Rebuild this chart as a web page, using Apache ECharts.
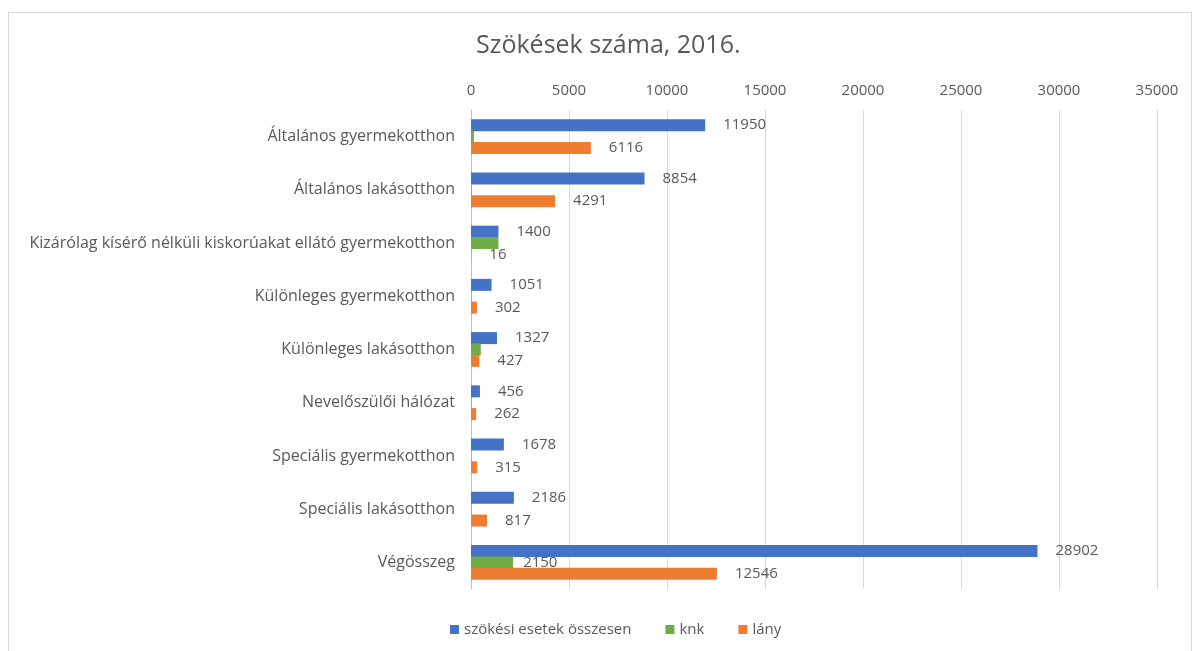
<!DOCTYPE html>
<html>
<head>
<meta charset="utf-8">
<script src="https://cdn.jsdelivr.net/npm/echarts@6/dist/echarts.min.js"></script>
<style>
  html, body { margin: 0; padding: 0; background: #fff; }
  #frame { position: absolute; left: 8px; top: 12px; width: 1184px; height: 640px; border: 1px solid #d9d9d9; box-sizing: border-box; }
  #chart { position: absolute; left: 0; top: 0; width: 1192px; height: 651px; }
</style>
</head>
<body>
<div id="frame"></div>
<div id="chart"></div>
<script>
var categories = [
  'Általános gyermekotthon',
  'Általános lakásotthon',
  'Kizárólag kísérő nélküli kiskorúakat ellátó gyermekotthon',
  'Különleges gyermekotthon',
  'Különleges lakásotthon',
  'Nevelőszülői hálózat',
  'Speciális gyermekotthon',
  'Speciális lakásotthon',
  'Végösszeg'
];
var osszesen = [11950, 8854, 1400, 1051, 1327, 456, 1678, 2186, 28902];
var knk = [150, 30, 1400, 20, 500, 20, 10, 20, 2150];
var lany = [6116, 4291, 16, 302, 427, 262, 315, 817, 12546];
var xTicks = [0, 35000, 5000]; // min, max, interval

var textColor = '#595959';
var font = 'Open Sans';

// only the total row shows a knk label
var knkData = knk.map(function (v, i) {
  return i === knk.length - 1 ? { value: v, label: { show: true } } : v;
});

var chart = echarts.init(document.getElementById('chart'));
chart.setOption({
  animation: false,
  textStyle: { fontFamily: font },
  title: {
    text: 'Szökések száma, 2016.',
    left: 471,
    top: 28,
    textStyle: { fontSize: 25, fontWeight: 'normal', color: textColor, fontFamily: font }
  },
  legend: {
    bottom: 9,
    left: 445,
    itemWidth: 9,
    itemHeight: 9,
    itemGap: 34,
    icon: 'rect',
    textStyle: { fontSize: 15, color: textColor, fontFamily: font },
    data: ['szökési esetek összesen', 'knk', 'lány']
  },
  grid: { left: 471, right: 35, top: 110, bottom: 62 },
  xAxis: {
    type: 'value',
    position: 'top',
    min: xTicks[0],
    max: xTicks[1],
    interval: xTicks[2],
    axisLine: { show: false },
    axisTick: { show: false },
    axisLabel: { color: textColor, fontSize: 15, margin: 12, fontFamily: font, formatter: function (v) { return String(v); } },
    splitLine: { lineStyle: { color: '#d9d9d9' } }
  },
  yAxis: {
    type: 'category',
    inverse: true,
    data: categories,
    axisLine: { lineStyle: { color: '#bfbfbf' } },
    axisTick: { show: false },
    axisLabel: { color: textColor, fontSize: 16, margin: 16, fontFamily: font }
  },
  series: [
    {
      name: 'szökési esetek összesen',
      type: 'bar',
      data: osszesen,
      barWidth: 12,
      barGap: '-5%',
      itemStyle: { color: '#4472C4' },
      label: { show: true, position: 'right', distance: 18, color: textColor, fontSize: 15, fontFamily: font }
    },
    {
      name: 'knk',
      type: 'bar',
      data: knkData,
      barWidth: 12,
      barGap: '-5%',
      itemStyle: { color: '#70AD47' },
      label: { show: false, position: 'right', distance: 10, color: textColor, fontSize: 15, fontFamily: font }
    },
    {
      name: 'lány',
      type: 'bar',
      data: lany,
      barWidth: 12,
      barGap: '-5%',
      itemStyle: { color: '#ED7D31' },
      label: { show: true, position: 'right', distance: 18, color: textColor, fontSize: 15, fontFamily: font }
    }
  ]
});
</script>
</body>
</html>
